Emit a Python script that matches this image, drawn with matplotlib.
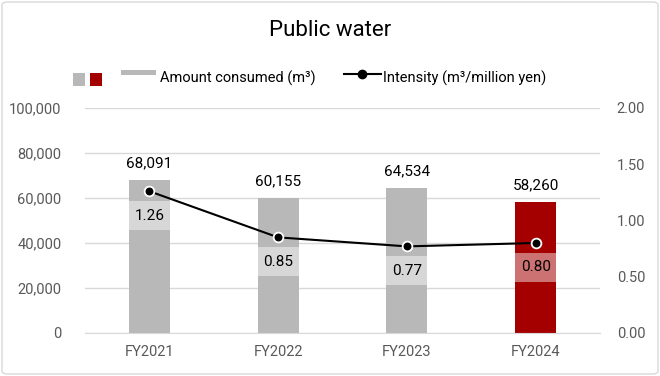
import matplotlib
matplotlib.use("Agg")
import matplotlib.pyplot as plt
from matplotlib.patches import Rectangle, FancyBboxPatch
from matplotlib.lines import Line2D

plt.rcParams['font.family'] = ['Roboto', 'DejaVu Sans']

categories = ["FY2021", "FY2022", "FY2023", "FY2024"]
amount = [68091, 60155, 64534, 58260]
intensity = [1.26, 0.85, 0.77, 0.80]
left_ticks = [0, 20000, 40000, 60000, 80000, 100000]
right_ticks = [0.0, 0.5, 1.0, 1.5, 2.0]

GRAY = "#b8b8b8"
RED = "#a50000"
TXT = "#595959"

W, H = 660, 376
fig = plt.figure(figsize=(W / 100, H / 100), dpi=100)

# figure border
fig.patches.append(FancyBboxPatch((2 / W, 2 / H), 1 - 4 / W, 1 - 4 / H,
                                  boxstyle="round,pad=0,rounding_size=0.008",
                                  transform=fig.transFigure, fill=False,
                                  edgecolor="#d9d9d9", linewidth=1))

ax = fig.add_axes([85 / W, 43 / H, 515 / W, 225 / H])
x = list(range(len(categories)))
colors = [GRAY] * (len(categories) - 1) + [RED]
bars = ax.bar(x, amount, width=0.32, color=colors, zorder=2)
ax.set_xlim(-0.5, len(categories) - 0.5)
ax.set_ylim(0, 100000)
ax.set_yticks(left_ticks)
ax.set_yticklabels([f"{v:,}" for v in left_ticks], color=TXT, fontsize=10.5)
ax.set_xticks(x)
ax.set_xticklabels(categories, color=TXT, fontsize=10.5)
ax.tick_params(length=0, pad=9)
ax.tick_params(axis='y', pad=17)
ax.grid(axis='y', color="#d9d9d9", linewidth=1, zorder=0)
for s in ["top", "right", "left"]:
    ax.spines[s].set_visible(False)
ax.spines["bottom"].set_color("#d9d9d9")
ax.spines["bottom"].set_zorder(3)

for xi, v in zip(x, amount):
    ax.annotate(f"{v:,}", (xi, v), xytext=(0, 7), textcoords="offset points",
                ha="center", va="bottom", fontsize=11, color="#000000")

ax2 = ax.twinx()
ax2.set_ylim(0, 2.0)
ax2.set_yticks(right_ticks)
ax2.set_yticklabels([f"{v:.2f}" for v in right_ticks], color=TXT, fontsize=10.5)
ax2.tick_params(length=0, pad=12)
for s in ["top", "right", "left", "bottom"]:
    ax2.spines[s].set_visible(False)
ax2.plot(x, intensity, color="black", linewidth=1.5, marker="o", markersize=7,
         markerfacecolor="black", markeredgecolor="white", markeredgewidth=1.3, zorder=4)
for xi, v in zip(x, intensity):
    ax2.annotate(f"{v:.2f}", (xi, v), xytext=(0, -17.5), textcoords="offset points",
                 ha="center", va="center", fontsize=11, color="#000000",
                 bbox=dict(boxstyle="square,pad=0.5", facecolor="white",
                           alpha=0.45, edgecolor="none"))

# title
fig.text(0.5, 1 - 30 / H, "Public water", ha="center", va="center", fontsize=16, color="#000000")

# legend (manual)
fig.patches.append(Rectangle((73 / W, 1 - 86 / H), 12 / W, 13 / H, transform=fig.transFigure,
                             facecolor=GRAY, edgecolor="none"))
fig.patches.append(Rectangle((90 / W, 1 - 86 / H), 12 / W, 13 / H, transform=fig.transFigure,
                             facecolor=RED, edgecolor="none"))
fig.patches.append(Rectangle((121 / W, 1 - 75 / H), 35 / W, 5 / H, transform=fig.transFigure,
                             facecolor=GRAY, edgecolor="none"))
fig.text(160 / W, 1 - 78 / H, "Amount consumed (m³)", ha="left", va="center", fontsize=10.5, color="#000000")
fig.lines.append(Line2D([344 / W, 381 / W], [1 - 74 / H, 1 - 74 / H], transform=fig.transFigure,
                        color="black", linewidth=1.5))
fig.lines.append(Line2D([362.5 / W], [1 - 74 / H], transform=fig.transFigure, marker="o",
                        markersize=6, color="black", markeredgecolor="black"))
fig.text(383 / W, 1 - 78 / H, "Intensity (m³/million yen)", ha="left", va="center", fontsize=10.5, color="#000000")

fig.savefig("out.png", dpi=100)
